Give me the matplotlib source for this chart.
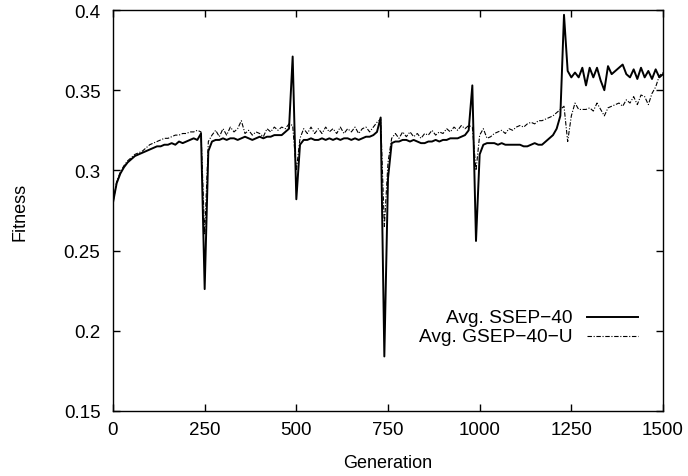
import numpy as np
import matplotlib
matplotlib.use("Agg")
import matplotlib.pyplot as plt
from matplotlib.ticker import FuncFormatter

plt.rcParams["font.family"] = ["Liberation Sans", "DejaVu Sans"]

# generations sampled every 10
generation = np.arange(0, 1501, 10)

ssep_40 = [
    0.280, 0.292, 0.298, 0.302, 0.305, 0.307, 0.309, 0.310, 0.311, 0.312,
    0.313, 0.314, 0.315, 0.315, 0.316, 0.316, 0.317, 0.316, 0.318, 0.317,
    0.318, 0.319, 0.320, 0.319, 0.323, 0.226, 0.312, 0.318, 0.319, 0.319,
    0.320, 0.319, 0.320, 0.320, 0.319, 0.320, 0.321, 0.320, 0.319, 0.320,
    0.321, 0.320, 0.321, 0.321, 0.322, 0.322, 0.322, 0.324, 0.326, 0.371,
    0.282, 0.316, 0.319, 0.319, 0.320, 0.319, 0.319, 0.320, 0.319, 0.320,
    0.319, 0.320, 0.319, 0.320, 0.320, 0.319, 0.320, 0.319, 0.320, 0.321,
    0.321, 0.322, 0.324, 0.333, 0.184, 0.295, 0.317, 0.318, 0.318, 0.319,
    0.319, 0.318, 0.319, 0.318, 0.317, 0.317, 0.318, 0.318, 0.319, 0.318,
    0.319, 0.319, 0.320, 0.320, 0.320, 0.321, 0.322, 0.325, 0.353, 0.256,
    0.310, 0.316, 0.317, 0.317, 0.317, 0.316, 0.317, 0.316, 0.316, 0.316,
    0.316, 0.316, 0.315, 0.315, 0.316, 0.317, 0.316, 0.316, 0.318, 0.320,
    0.322, 0.326, 0.334, 0.397, 0.362, 0.358, 0.361, 0.358, 0.364, 0.353,
    0.364, 0.358, 0.364, 0.356, 0.350, 0.365, 0.360, 0.362, 0.364, 0.366,
    0.360, 0.358, 0.363, 0.357, 0.364, 0.358, 0.362, 0.357, 0.363, 0.358,
    0.360,
]

gsep_40_u = [
    0.280, 0.293, 0.299, 0.303, 0.306, 0.308, 0.310, 0.311, 0.312, 0.314,
    0.316, 0.317, 0.318, 0.319, 0.320, 0.320, 0.321, 0.322, 0.322, 0.323,
    0.323, 0.324, 0.324, 0.325, 0.324, 0.260, 0.318, 0.322, 0.325, 0.321,
    0.326, 0.322, 0.327, 0.324, 0.326, 0.331, 0.323, 0.325, 0.322, 0.324,
    0.323, 0.321, 0.326, 0.324, 0.327, 0.325, 0.327, 0.326, 0.329, 0.328,
    0.300, 0.320, 0.326, 0.323, 0.327, 0.323, 0.326, 0.323, 0.327, 0.324,
    0.326, 0.323, 0.327, 0.323, 0.326, 0.324, 0.327, 0.323, 0.326, 0.327,
    0.324, 0.327, 0.330, 0.332, 0.265, 0.305, 0.320, 0.323, 0.320, 0.324,
    0.321, 0.324, 0.321, 0.323, 0.320, 0.323, 0.322, 0.325, 0.322, 0.324,
    0.323, 0.326, 0.324, 0.327, 0.325, 0.328, 0.326, 0.328, 0.327, 0.300,
    0.322, 0.326, 0.320, 0.321, 0.323, 0.324, 0.325, 0.323, 0.326, 0.325,
    0.327, 0.328, 0.327, 0.329, 0.330, 0.329, 0.331, 0.331, 0.332, 0.333,
    0.334, 0.336, 0.338, 0.340, 0.318, 0.334, 0.342, 0.338, 0.338, 0.338,
    0.339, 0.337, 0.342, 0.338, 0.334, 0.339, 0.340, 0.341, 0.342, 0.340,
    0.344, 0.342, 0.346, 0.341, 0.347, 0.346, 0.341, 0.348, 0.352, 0.359,
    0.361,
]

x_ticks = [0, 250, 500, 750, 1000, 1250, 1500]
y_ticks = [0.15, 0.2, 0.25, 0.3, 0.35, 0.4]

fig = plt.figure(figsize=(6.88, 4.77), dpi=100)
ax = fig.add_axes([113 / 688, 1 - 412 / 477, 550 / 688, 401 / 477])

ax.plot(generation, ssep_40, color="black", linewidth=1.4)
ax.plot(generation, gsep_40_u, color="black", linewidth=0.8,
        dashes=(4, 1.5, 1, 1.5))

ax.set_xlim(0, 1500)
ax.set_ylim(0.15, 0.4)
ax.set_xticks(x_ticks)
ax.set_yticks(y_ticks)
ax.yaxis.set_major_formatter(FuncFormatter(lambda v, p: f"{v:g}"))

ax.tick_params(direction="in", length=5, width=1, top=True, right=True,
               labelsize=13.5, colors="black")
ax.tick_params(axis="y", pad=9)
ax.tick_params(axis="x", pad=7)
for s in ax.spines.values():
    s.set_linewidth(1)

ax.set_xlabel("Generation", fontsize=13)
ax.set_ylabel("Fitness", fontsize=13)
ax.xaxis.set_label_coords(0.5, -0.108)
ax.yaxis.set_label_coords(-0.153, 0.5)

# gnuplot-style key: right-aligned text with the sample to its right
key = [("Avg. SSEP\u221240", dict(linewidth=1.4)),
       ("Avg. GSEP\u221240\u2212U", dict(linewidth=0.8, dashes=(4, 1.5, 1, 1.5)))]
for i, (label, style) in enumerate(key):
    yk = 0.234 - i * 0.048
    ax.text(0.836, yk, label, transform=ax.transAxes, ha="right", va="center",
            fontsize=13.8)
    ax.plot([0.862, 0.955], [yk, yk], transform=ax.transAxes, color="black",
            **style)

fig.savefig("out.png", dpi=100)
plt.close(fig)
